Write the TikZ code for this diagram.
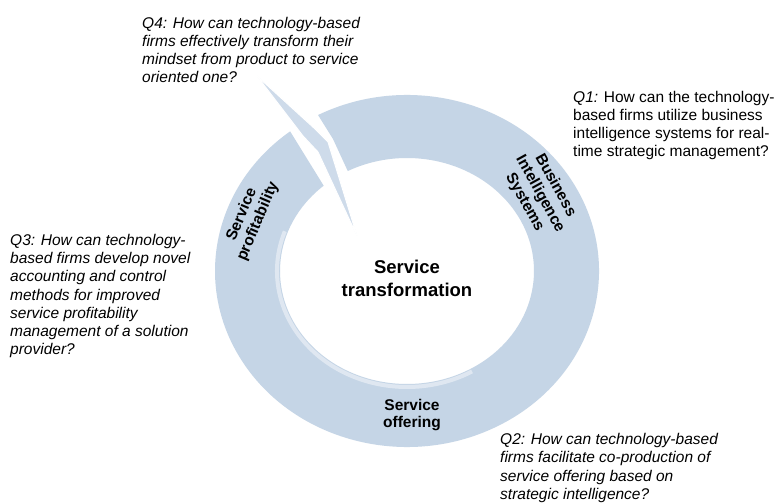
\documentclass[tikz,border=0pt]{standalone}
\usepackage{fontspec}
\setmainfont{Liberation Sans}
\usetikzlibrary{calc}
\definecolor{ringblue}{RGB}{197,213,230}
\begin{document}
\begin{tikzpicture}[x=1pt,y=1pt,
  qtext/.style={anchor=base west, align=left, inner sep=0pt, font=\fontsize{15.5}{18.3}\selectfont\itshape},
  qtextup/.style={anchor=base west, align=left, inner sep=0pt, font=\fontsize{15.5}{18.3}\selectfont},
  lbl/.style={align=center, inner sep=0pt, font=\fontsize{15.5}{17.5}\selectfont\bfseries},
  ringfill/.style={fill=ringblue},
  spike/.style={fill=ringblue!85!white, draw=white, line width=1pt, line join=round},
  gloss/.style={white, opacity=0.45, line width=4pt}
  ]
\useasboundingbox (0,0) rectangle (776,503);
\fill[white] (0,0) rectangle (776,503);
\coordinate (C) at (407,232);
\fill[ringfill] ($(C)+(117.6:192 and 176)$)
  arc[start angle=117.6, end angle=-232.5, x radius=192, y radius=176]
  -- ($(C)+(-229:127 and 113)$)
  arc[start angle=-229, end angle=117.8, x radius=127, y radius=113]
  -- (333,364) -- cycle;
\draw[gloss] ($(C)+(160:130 and 116)$) arc[start angle=160, end angle=300, x radius=130, y radius=116];
\filldraw[spike] (257,427) -- (303,367) -- (318,351) -- (357,267) -- (328,361) -- (314,375) -- cycle;

\node[qtext] (q4) at (142,420) {Q4: How can technology-based\\firms effectively transform their\\mindset from product to service\\oriented one?};
\node[qtextup] (q1) at (573,346) {\textit{Q1:} How can the technology-\\based firms utilize business\\intelligence systems for real-\\time strategic management?};
\node[qtext] (q3) at (10,148) {Q3: How can technology-\\based firms develop novel\\accounting and control\\methods for improved\\service profitability\\management of a solution\\provider?};
\node[qtext] (q2) at (500,3.5) {Q2: How can technology-based\\firms facilitate co-production of\\service offering based on\\strategic intelligence?};
\node[lbl, font=\fontsize{18.5}{23.3}\selectfont\bfseries, anchor=base] (center) at (407,206) {Service\\transformation};
\node[lbl, anchor=base] (off) at (412,75) {Service\\offering};
\node[lbl, rotate=67] (prof) at (250,285) {Service\\profitability};
\node[lbl, rotate=-61] (bis) at (540,309) {Business\\Intelligence\\Systems};
\end{tikzpicture}
\end{document}
